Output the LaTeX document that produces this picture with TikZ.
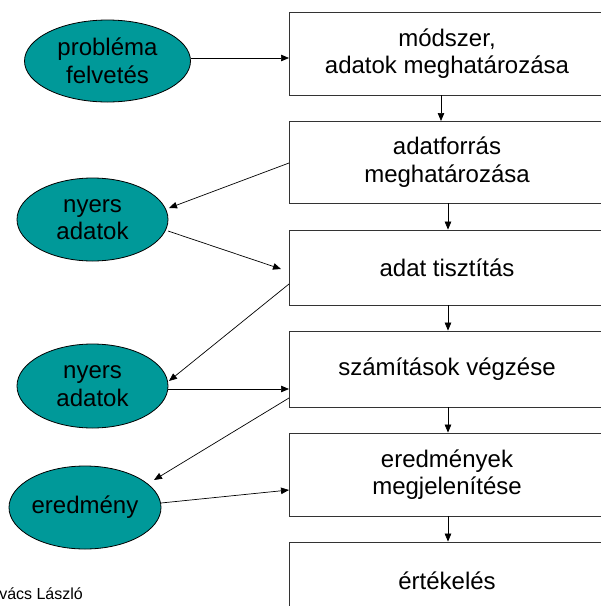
\documentclass[tikz,border=0pt]{standalone}
\usepackage{fontspec}
\setmainfont{Liberation Sans}
\usetikzlibrary{shapes.geometric,arrows.meta}
\definecolor{tealfill}{RGB}{0,153,153}
\begin{document}
\begin{tikzpicture}[x=1pt,y=-1pt,
  stepbox/.style={draw=black!80,line width=0.8pt,rectangle,minimum width=316pt,inner sep=0pt,align=center,font=\fontsize{24}{27.6}\selectfont},
  oval/.style={draw=black,line width=0.8pt,ellipse,fill=tealfill,inner sep=0pt,align=center,font=\fontsize{24}{27.6}\selectfont},
  conn/.style={line width=0.7pt,-{Triangle[length=8pt,width=6.5pt]}}]
\useasboundingbox (0,0) rectangle (601,606);
% boxes
\node[stepbox,minimum height=83pt] (b1) at (447,53.5) {módszer,\\adatok meghatározása};
\node[stepbox,minimum height=82pt] (b2) at (447,162) {adatforrás\\meghatározása};
\node[stepbox,minimum height=75pt] (b3) at (447,267.5) {adat tisztítás};
\node[stepbox,minimum height=76pt] (b4) at (447,369) {számítások végzése};
\node[stepbox,minimum height=83pt] (b5) at (447,474.5) {eredmények\\megjelenítése};
\node[stepbox,minimum height=78pt] (b6) at (447,581) {értékelés};
% ellipses
\node[oval,minimum width=166pt,minimum height=82pt] (e1) at (107.5,61) {probléma\\felvetés};
\node[oval,minimum width=151pt,minimum height=83pt] (e2) at (92.5,219.5) {nyers\\adatok};
\node[oval,minimum width=151pt,minimum height=84pt] (e3) at (92.5,386) {nyers\\adatok};
\node[oval,minimum width=152pt,minimum height=83pt] (e4) at (85,507.5) {eredmény};
% vertical arrows
\draw[conn] (441,95) coordinate (v1a) -- (441,121) coordinate (v1b);
\draw[conn] (b2.south -| 448,0) -- (b3.north -| 448,0);
\draw[conn] (b3.south -| 448,0) -- (b4.north -| 448,0);
\draw[conn] (b4.south -| 448,0) -- (b5.north -| 448,0);
\draw[conn] (b5.south -| 448,0) -- (b6.north -| 448,0);
% side connectors
\coordinate (c1) at (289,58);
\draw[conn] (e1.east |- c1) -- (c1);
\coordinate (c2s) at (289,163);
\coordinate (c2e) at (169,208);
\draw[conn] (c2s) -- (c2e);
\coordinate (c3s) at (168,231);
\coordinate (c3e) at (281,269);
\draw[conn] (c3s) -- (c3e);
\coordinate (c4s) at (289,284);
\coordinate (c4e) at (169,381);
\draw[conn] (c4s) -- (c4e);
\coordinate (c5) at (289,389);
\draw[conn] (e3.east |- c5) -- (c5);
\coordinate (c6s) at (289,398);
\coordinate (c6e) at (154,480);
\draw[conn] (c6s) -- (c6e);
\coordinate (c7s) at (161,503);
\coordinate (c7e) at (289,490);
\draw[conn] (c7s) -- (c7e);
% footer
\node[anchor=base west,inner sep=0pt,font=\fontsize{16}{19}\selectfont] (foot) at (-20.5,599) {Kovács László};
\end{tikzpicture}
\end{document}
